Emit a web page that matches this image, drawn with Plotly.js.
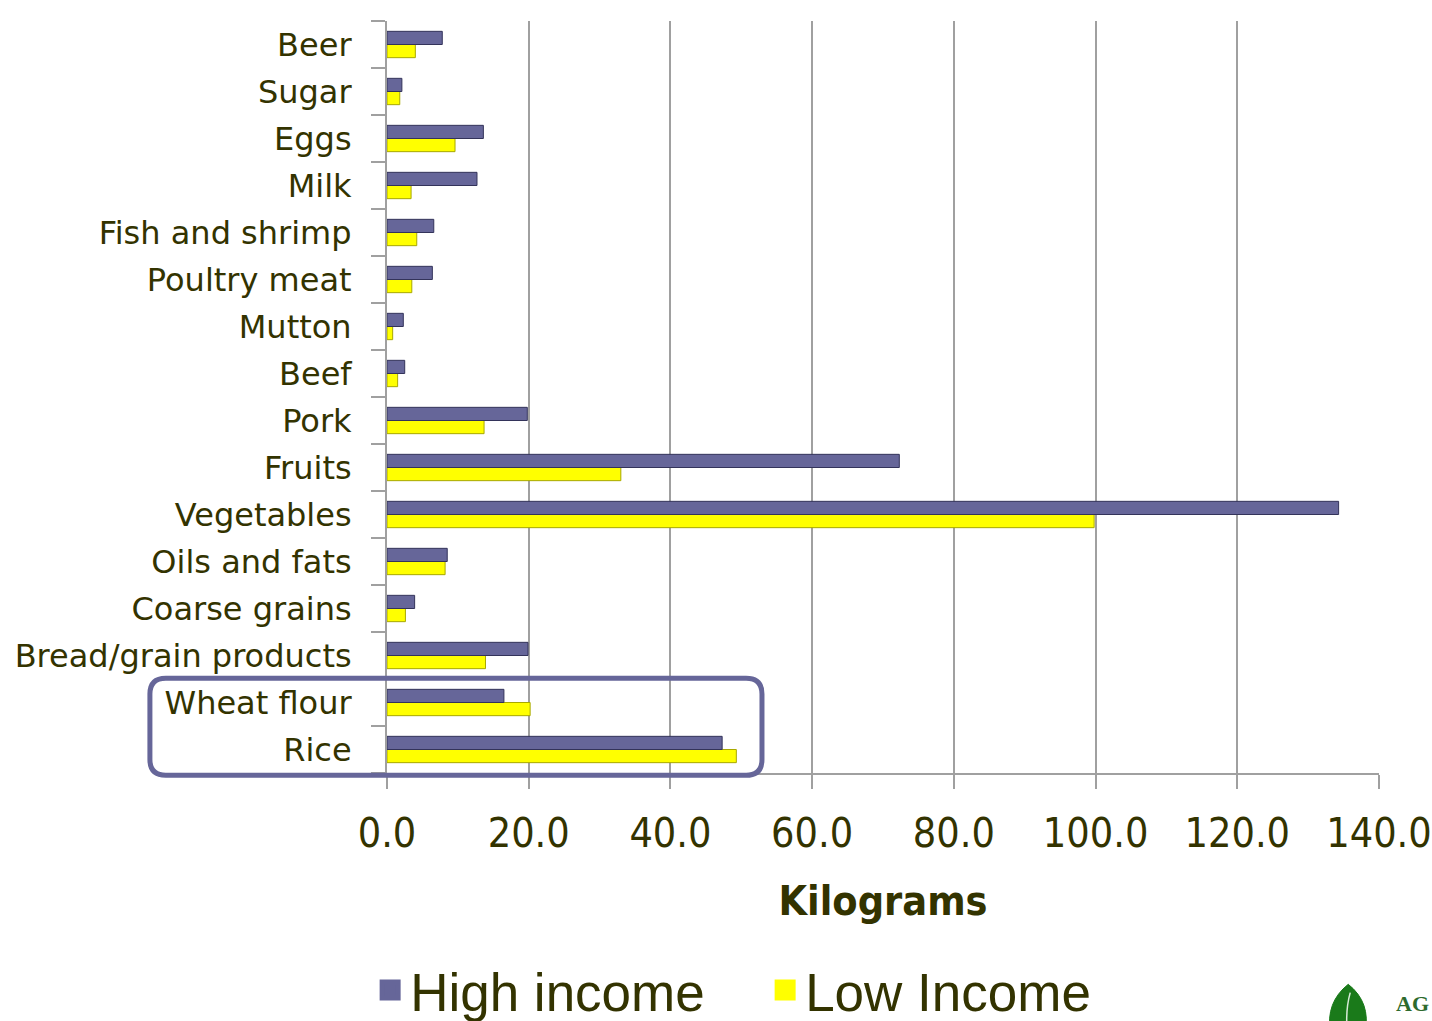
<!DOCTYPE html>
<html>
<head>
<meta charset="utf-8">
<script src="https://cdn.plot.ly/plotly-3.0.1.min.js"></script>
<style>
html,body{margin:0;padding:0;background:#fff;overflow:hidden;}
#chart{width:1432px;height:1021px;}
</style>
</head>
<body>
<div id="chart"></div>
<script>
// Categories listed bottom-to-top
const categories = ["Rice","Wheat flour","Bread/grain products","Coarse grains","Oils and fats","Vegetables","Fruits","Pork","Beef","Mutton","Poultry meat","Fish and shrimp","Milk","Eggs","Sugar","Beer"];
const highIncome = [47.3, 16.5, 19.9, 3.9, 8.5, 134.3, 72.3, 19.8, 2.5, 2.3, 6.4, 6.6, 12.7, 13.6, 2.1, 7.8];
const lowIncome  = [49.3, 20.2, 13.9, 2.6, 8.2, 99.8, 33.0, 13.7, 1.5, 0.8, 3.5, 4.2, 3.4, 9.6, 1.8, 4.0];
const xTickVals = [0, 20, 40, 60, 80, 100, 120, 140];
const xTickText = ["0.0", "20.0", "40.0", "60.0", "80.0", "100.0", "120.0", "140.0"];
const seriesNames = ["High income", "Low Income"];
const seriesColors = ["#666699", "#ffff00"];
const seriesEdges = ["#33335a", "#a8a800"];

const textColor = "#333300";
const gridColor = "#a0a0a0";

const traces = [
  {
    type: "bar", orientation: "h", name: seriesNames[1],
    y: categories, x: lowIncome,
    marker: {color: seriesColors[1], line: {color: seriesEdges[1], width: 1}},
    hoverinfo: "x+y+name", showlegend: false
  },
  {
    type: "bar", orientation: "h", name: seriesNames[0],
    y: categories, x: highIncome,
    marker: {color: seriesColors[0], line: {color: seriesEdges[0], width: 1}},
    hoverinfo: "x+y+name", showlegend: false
  },
  // legend entries (square keys)
  {
    type: "scatter", mode: "markers", name: seriesNames[0], x: [null], y: [null],
    marker: {symbol: "square", size: 16, color: seriesColors[0], line: {color: seriesColors[0], width: 5}},
    legendrank: 1, hoverinfo: "skip"
  },
  {
    type: "scatter", mode: "markers", name: seriesNames[1], x: [null], y: [null],
    marker: {symbol: "square", size: 16, color: seriesColors[1], line: {color: seriesColors[1], width: 5}},
    legendrank: 2, hoverinfo: "skip"
  }
];

// Rounded highlight box around Wheat flour and Rice (paper coordinates)
function roundedRect(x0, y0, x1, y1, rx, ry) {
  return "M" + (x0 + rx) + "," + y1 +
    " L" + (x1 - rx) + "," + y1 +
    " Q" + x1 + "," + y1 + " " + x1 + "," + (y1 - ry) +
    " L" + x1 + "," + (y0 + ry) +
    " Q" + x1 + "," + y0 + " " + (x1 - rx) + "," + y0 +
    " L" + (x0 + rx) + "," + y0 +
    " Q" + x0 + "," + y0 + " " + x0 + "," + (y0 + ry) +
    " L" + x0 + "," + (y1 - ry) +
    " Q" + x0 + "," + y1 + " " + (x0 + rx) + "," + y1 + " Z";
}

const layout = {
  width: 1432, height: 1021,
  margin: {l: 387, r: 53, t: 21, b: 248, pad: 0, autoexpand: false},
  paper_bgcolor: "#ffffff", plot_bgcolor: "#ffffff",
  barmode: "group",
  bargap: 0.44,
  bargroupgap: 0,
  showlegend: true,
  font: {family: "DejaVu Sans, Verdana, sans-serif", color: textColor},
  xaxis: {
    range: [0, 140],
    tickvals: xTickVals, ticktext: xTickText,
    showgrid: true, gridcolor: gridColor, gridwidth: 2,
    showline: true, linecolor: gridColor, linewidth: 2,
    ticks: "outside", ticklen: 14, tickcolor: gridColor, tickwidth: 2,
    ticklabelstandoff: 9,
    tickfont: {family: "DejaVu Sans Condensed, Liberation Sans, Arial, sans-serif", size: 41, color: textColor},
    zeroline: false,
    title: {text: "<b>Kilograms</b>", standoff: 30,
            font: {family: "DejaVu Sans Condensed, Liberation Sans, Arial, sans-serif", size: 41, color: textColor}},
    fixedrange: true
  },
  yaxis: {
    type: "category",
    showgrid: false,
    showline: true, linecolor: gridColor, linewidth: 2,
    ticks: "outside", tickson: "boundaries", ticklen: 14, tickcolor: gridColor, tickwidth: 2,
    ticklabelstandoff: 27,
    tickfont: {family: "DejaVu Sans, Verdana, sans-serif", size: 32, color: textColor},
    fixedrange: true
  },
  legend: {
    orientation: "h",
    x: -0.017, xanchor: "left",
    y: -0.234, yanchor: "top",
    traceorder: "normal",
    font: {family: "Liberation Sans, Arial, sans-serif", size: 53, color: textColor},
    itemwidth: 30,
    entrywidth: 350, entrywidthmode: "pixels",
    bgcolor: "rgba(0,0,0,0)"
  },
  shapes: [
    {type: "path", xref: "paper", yref: "paper",
     path: roundedRect(-0.239, -0.003, 0.378, 0.126, 0.016, 0.021),
     line: {color: "#666699", width: 5}, fillcolor: "rgba(0,0,0,0)", layer: "above"},
    // logo leaf
    {type: "path", xref: "paper", yref: "paper",
     path: "M0.969,-0.281 Q0.992,-0.305 0.986,-0.345 L0.951,-0.345 Q0.946,-0.305 0.969,-0.281 Z",
     line: {color: "#1a7a1a", width: 1}, fillcolor: "#1a7a1a", layer: "above"},
    {type: "path", xref: "paper", yref: "paper",
     path: "M0.971,-0.292 Q0.966,-0.315 0.968,-0.345",
     line: {color: "#d8ead8", width: 1.5}, layer: "above"}
  ],
  annotations: [
    {xref: "paper", yref: "paper", x: 1.052, y: -0.306, xanchor: "right", yanchor: "middle",
     text: "<b>AG</b>", showarrow: false,
     font: {family: "Liberation Serif, serif", size: 22, color: "#2d6a2d"}}
  ]
};

Plotly.newPlot("chart", traces, layout, {displayModeBar: false, staticPlot: false});
</script>
</body>
</html>
